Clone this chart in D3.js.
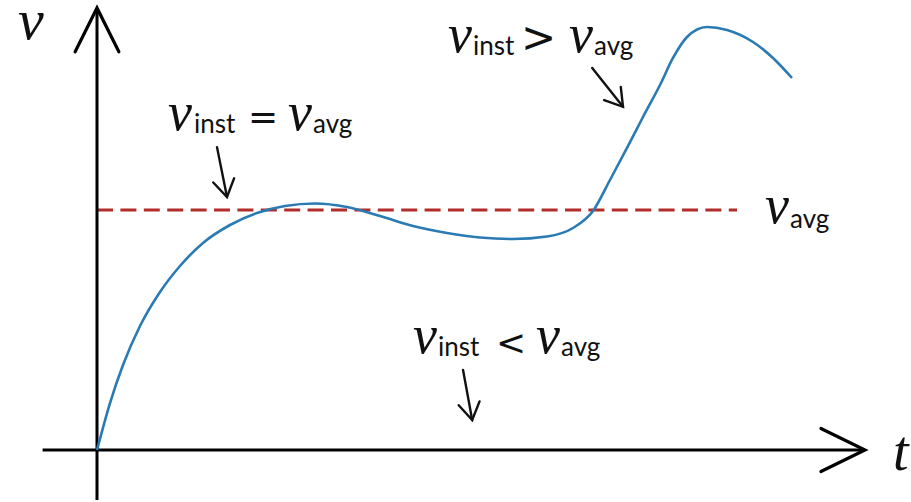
<!DOCTYPE html>
<html>
<head>
<meta charset="utf-8">
<script src="https://cdn.jsdelivr.net/npm/d3@7"></script>
<style>
  html, body { margin: 0; padding: 0; background: #fff; }
  svg { display: block; }
</style>
</head>
<body>
<svg id="chart" width="911" height="502"></svg>
<script>
// ---- data (t in time units, v in velocity units) ----
const tValues = [0, 0.1625, 0.325, 0.5375, 0.7875, 1.0375, 1.325, 1.6625, 2.0, 2.35, 2.725, 3.125, 3.5375, 3.95, 4.375, 4.7875, 5.2, 5.625, 5.95, 6.2, 6.4125, 6.625, 6.825, 7.0375, 7.2, 7.375, 7.625, 7.875, 8.2, 8.45, 8.6875];
const vValues = [0, 0.979, 1.771, 2.583, 3.292, 3.833, 4.313, 4.6875, 4.9375, 5.083, 5.135, 5.0625, 4.875, 4.667, 4.521, 4.427, 4.396, 4.448, 4.625, 4.979, 5.625, 6.292, 6.938, 7.604, 8.167, 8.604, 8.8125, 8.75, 8.5, 8.167, 7.75];
const vAvg = 5;
const avgExtent = [0, 8.0];
const xAxisExtent = [-0.68, 9.6];
const yAxisExtent = [-1.04, 9.21];

// annotation arrows: [tStart, vStart, tEnd, vEnd]
const arrows = [
  [1.5, 6.31, 1.625, 5.27],
  [6.19, 7.96, 6.575, 7.15],
  [4.575, 1.67, 4.69, 0.625]
];
// labels: anchor t, anchor v, parts [text, kind, dx, dy]
const labels = [
  { t: 0.8875, v: 6.667, parts: [["v","var",0,0],["inst","sub",26,3],["=","op",80,-1],["v","var",120,0],["avg","sub",145,3]] },
  { t: 4.3875, v: 8.2917, parts: [["v","var",0,0],["inst","sub",25,3],[">","opL",73,0],["v","var",121,0],["avg","sub",146,3]] },
  { t: 3.95, v: 2.0208, parts: [["v","var",0,0],["inst","sub",25,3],["<","op",83,2],["v","var",123,0],["avg","sub",148,3]] },
  { t: 8.35, v: 4.729, parts: [["v","var",0,0],["avg","sub",25,5]] }
];
const axisLabels = [
  { text: "v", t: -0.9875, v: 8.5625, size: 58 },
  { text: "t", t: 9.95, v: -0.4167, size: 56 }
];

// ---- drawing ----
const svg = d3.select("#chart");
const x = d3.scaleLinear().domain([0, 10]).range([97, 897]);
const y = d3.scaleLinear().domain([0, 5]).range([450, 210]);

const serif = "'Liberation Serif', 'DejaVu Serif', serif";
const sans = "Lato, 'Open Sans', 'Liberation Sans', sans-serif";
const opFont = "'DejaVu Sans', sans-serif";

// dashed average line
svg.append("line")
  .attr("x1", x(avgExtent[0])).attr("x2", x(avgExtent[1]))
  .attr("y1", y(vAvg)).attr("y2", y(vAvg))
  .attr("stroke", "#b22c2a").attr("stroke-width", 2.8)
  .attr("stroke-dasharray", "16,7.4");

// axes
function chevron(tipX, tipY, dirX, dirY, len, ang) {
  const a = Math.atan2(dirY, dirX) + Math.PI;
  const p1 = [tipX + len * Math.cos(a + ang), tipY + len * Math.sin(a + ang)];
  const p2 = [tipX + len * Math.cos(a - ang), tipY + len * Math.sin(a - ang)];
  return `M${p1[0]},${p1[1]}L${tipX},${tipY}L${p2[0]},${p2[1]}`;
}
const axisG = svg.append("g").attr("stroke", "#000").attr("fill", "none");
axisG.append("line")
  .attr("x1", x(xAxisExtent[0])).attr("x2", x(xAxisExtent[1]))
  .attr("y1", y(0)).attr("y2", y(0)).attr("stroke-width", 3);
axisG.append("line")
  .attr("x1", x(0)).attr("x2", x(0))
  .attr("y1", y(yAxisExtent[0])).attr("y2", y(yAxisExtent[1])).attr("stroke-width", 3);
axisG.append("path")
  .attr("d", chevron(x(xAxisExtent[1]), y(0), 1, 0, 49, 26 * Math.PI / 180))
  .attr("stroke-width", 3.2).attr("stroke-linecap", "round");
axisG.append("path")
  .attr("d", chevron(x(0), y(yAxisExtent[1]), 0, -1, 49, 26.5 * Math.PI / 180))
  .attr("stroke-width", 3.2).attr("stroke-linecap", "round");

// curve
const pts = tValues.map((t, i) => [t, vValues[i]]);
const line = d3.line().x(d => x(d[0])).y(d => y(d[1])).curve(d3.curveMonotoneX);
svg.append("path")
  .attr("d", line(pts))
  .attr("fill", "none").attr("stroke", "#2a7bb3").attr("stroke-width", 2.6)
  .attr("stroke-linejoin", "round");

// annotation arrows
const arrG = svg.append("g").attr("stroke", "#111").attr("fill", "none")
  .attr("stroke-width", 2.4).attr("stroke-linecap", "round");
arrows.forEach(a => {
  const x1 = x(a[0]), y1 = y(a[1]), x2 = x(a[2]), y2 = y(a[3]);
  arrG.append("line").attr("x1", x1).attr("y1", y1).attr("x2", x2).attr("y2", y2);
  arrG.append("path").attr("d", chevron(x2, y2, x2 - x1, y2 - y1, 20, 32 * Math.PI / 180));
});

// labels
labels.forEach(l => {
  const x0 = x(l.t), y0 = y(l.v);
  const g = svg.append("g");
  l.parts.forEach(p => {
    const txt = g.append("text").attr("x", x0 + p[2]).attr("y", y0 + p[3]).text(p[0]).attr("fill", "#111");
    if (p[1] === "var") txt.attr("font-family", serif).attr("font-style", "italic").attr("font-size", 54);
    else if (p[1] === "sub") txt.attr("font-family", sans).attr("font-size", 26);
    else if (p[1] === "opL") txt.attr("font-family", opFont).attr("font-size", 42);
    else txt.attr("font-family", opFont).attr("font-size", 36);
  });
});
axisLabels.forEach(a => {
  svg.append("text").attr("x", x(a.t)).attr("y", y(a.v)).text(a.text)
    .attr("font-family", serif).attr("font-style", "italic").attr("font-size", a.size).attr("fill", "#111");
});
</script>
</body>
</html>
